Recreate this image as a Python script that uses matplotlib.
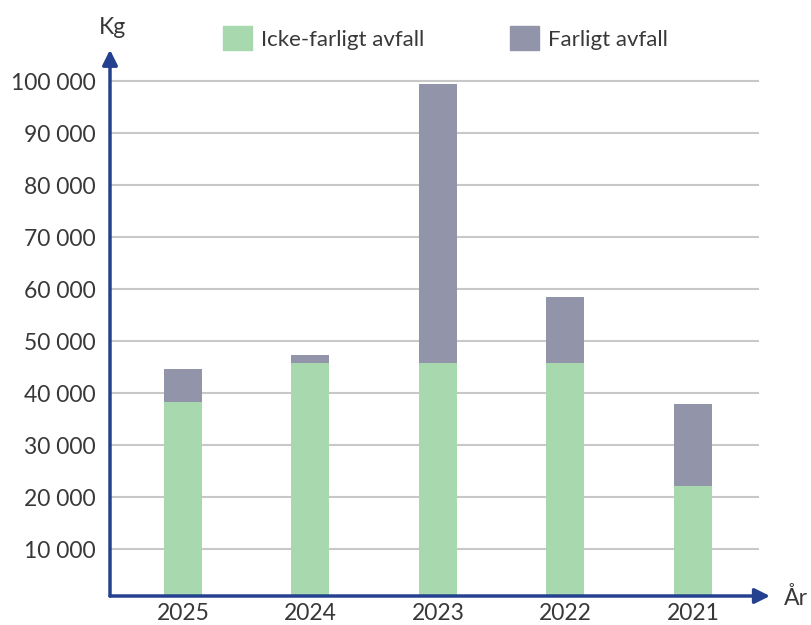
import numpy as np
import matplotlib.pyplot as plt
from matplotlib.patches import Patch

years = ['2025', '2024', '2023', '2022', '2021']
icke_farligt = [38300, 45800, 45800, 45800, 22200]
farligt = [6400, 1600, 53700, 12700, 15800]
yticks = [10000, 20000, 30000, 40000, 50000, 60000, 70000, 80000, 90000, 100000]

green = '#a8d8ae'
grey = '#9294aa'
blue = '#24418f'
txt = '#383838'

plt.rcParams['font.family'] = ['Lato', 'DejaVu Sans']

fig = plt.figure(figsize=(8.11, 6.25), dpi=100)
ax = fig.add_axes([110 / 811, 29 / 625, 649 / 811, 567 / 625])

x = np.arange(len(years))
ax.bar(x, icke_farligt, width=0.298, color=green, zorder=2)
ax.bar(x, farligt, bottom=icke_farligt, width=0.298, color=grey, zorder=2)

ax.set_xlim(-0.5725, 4.518)
ax.set_ylim(1000, 110000)
ax.set_yticks(yticks)
ax.set_yticklabels([f'{v:,}'.replace(',', ' ') for v in yticks])
ax.set_xticks(x)
ax.set_xticklabels(years)
ax.tick_params(axis='both', length=0, labelsize=16.5, labelcolor=txt)
ax.tick_params(axis='y', pad=10)
ax.tick_params(axis='x', pad=5)
ax.grid(axis='y', color='#c8c8c8', linewidth=1.5, zorder=0)
for s in ax.spines.values():
    s.set_visible(False)

# axis arrows
ax.annotate('', xy=(4.604, 1000), xytext=(-0.5725, 1000),
            arrowprops=dict(arrowstyle='-|>,head_length=0.9,head_width=0.45',
                            color=blue, lw=2.5, shrinkA=0, shrinkB=0),
            annotation_clip=False, zorder=5)
ax.annotate('', xy=(-0.5725, 106000), xytext=(-0.5725, 1000),
            arrowprops=dict(arrowstyle='-|>,head_length=0.9,head_width=0.45',
                            color=blue, lw=2.5, shrinkA=0, shrinkB=0),
            annotation_clip=False, zorder=5)
ax.text(-0.55, 109100, 'Kg', ha='center', va='baseline', fontsize=16.5, color=txt, clip_on=False)
ax.text(4.715, 1000, 'År', ha='left', va='center_baseline', fontsize=16.5, color=txt, clip_on=False)

handles = [Patch(color=green), Patch(color=grey)]
fig.legend(handles, ['Icke-farligt avfall', 'Farligt avfall'], ncol=2, frameon=False,
           loc='upper left', bbox_to_anchor=(214 / 811, 1 - 17 / 625),
           fontsize=16, labelcolor=txt, handlelength=1.31, handleheight=1.31,
           handletextpad=0.4, columnspacing=3.85, borderaxespad=0)

fig.savefig('out.png', dpi=100)
